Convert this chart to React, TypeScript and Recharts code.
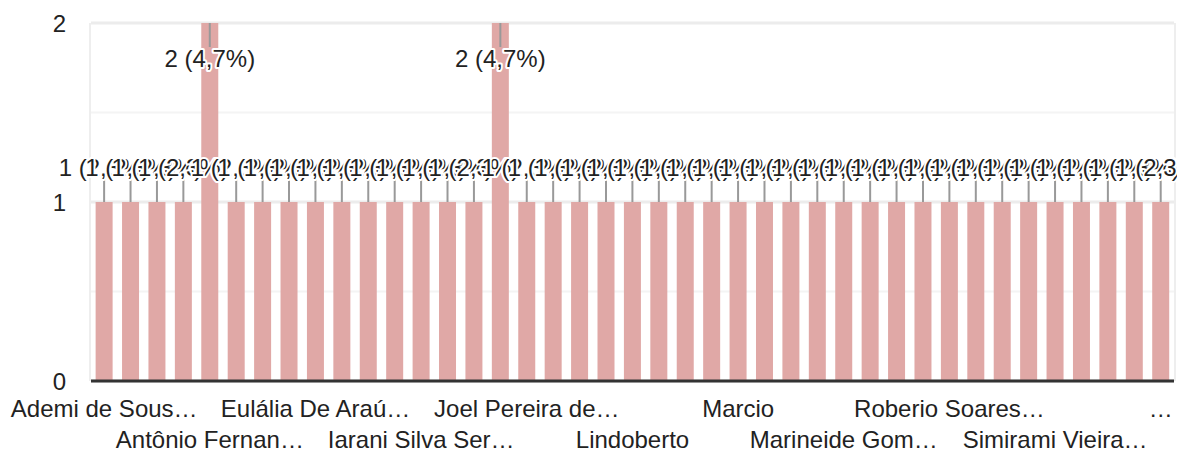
import { BarChart, Bar, XAxis, YAxis, CartesianGrid, ReferenceLine, LabelList } from "recharts";

// Names as they show on the axis (every 4th one is visible), the rest are read as hidden.
const names = [
  "Ademi de Sous…", "Adriana Lopes", "Alcides Rocha", "Ana Paula", "Antônio Fernan…",
  "Benedita Silva", "Carlos Alberto", "Cícero Gomes", "Eulália De Araú…", "Francisco Neto",
  "Gilberto Dias", "Helena Costa", "Iarani Silva Ser…", "Ivone Maria", "Jacira Souza",
  "João Batista", "Joel Pereira de…", "José Carlos", "Josefa Lima", "Leonor Alves",
  "Lindoberto", "Lúcia Helena", "Luiz Antônio", "Manoel Pedro", "Marcio",
  "Maria das Dores", "Maria José", "Marilene Cruz", "Marineide Gom…", "Neusa Ramos",
  "Otávio Reis", "Raimundo Nonato", "Roberio Soares…", "Rosângela Melo", "Sebastião Luz",
  "Severino Paz", "Simirami Vieira…", "Sônia Maria", "Terezinha Rosa", "Valdir Santos",
  "…",
];

const counts = [
  1, 1, 1, 1, 2, 1, 1, 1, 1, 1, 1, 1, 1, 1, 1, 2, 1, 1, 1, 1, 1,
  1, 1, 1, 1, 1, 1, 1, 1, 1, 1, 1, 1, 1, 1, 1, 1, 1, 1, 1, 1,
];

const yTicks = [0, 0.5, 1, 1.5, 2];

const total = counts.reduce((a, b) => a + b, 0);
const data = names.map((name, i) => ({ name, count: counts[i] }));

const FONT = '"Liberation Sans", Arial, sans-serif';
const TEXT = "#222222";
const PLOT_TOP = 23;

function pct(v: number) {
  return `${v} (${((v / total) * 100).toFixed(1).replace(".", ",")}%)`;
}

function Annotation(props: any) {
  const vb = props.viewBox || {};
  const x = props.x ?? vb.x;
  const y = props.y ?? vb.y;
  const w = props.width ?? vb.width;
  const v = Number(props.value);
  const cx = x + w / 2;
  const inside = y - 50 < PLOT_TOP;
  const y2 = inside ? y + 24 : y - 23;
  const ty = inside ? y + 44 : y - 26;
  return (
    <g>
      <line x1={cx} y1={y} x2={cx} y2={y2} stroke="#999999" strokeWidth={2} />
      <text
        x={cx}
        y={ty}
        textAnchor="middle"
        fontFamily={FONT}
        fontSize={24}
        fill={TEXT}
        stroke="#ffffff"
        strokeWidth={4}
        strokeLinejoin="round"
        paintOrder="stroke"
      >
        {pct(v)}
      </text>
    </g>
  );
}

function NameTick(props: any) {
  const { x, y, payload } = props;
  const i = payload.index;
  if (i % 4 !== 0) return <g />;
  const row = (i / 4) % 2;
  return (
    <text
      x={x}
      y={y + (row === 0 ? 36 : 67)}
      textAnchor="middle"
      fontFamily={FONT}
      fontSize={24}
      fill={TEXT}
    >
      {payload.value}
    </text>
  );
}

// major lines at whole numbers, lighter ones at the halves
function GridLine(props: any) {
  const major = props.index % 2 === 0;
  return (
    <line
      key={props.key}
      x1={props.x1}
      x2={props.x2}
      y1={props.y1}
      y2={props.y2}
      stroke={major ? "#ececec" : "#f4f4f4"}
      strokeWidth={major ? 3 : 2}
    />
  );
}

export default function App() {
  return (
    <div style={{ width: 1177, height: 450, background: "#fff" }}>
      <style>{"body{margin:0}"}</style>
      <BarChart
        width={1177}
        height={450}
        data={data}
        margin={{ top: PLOT_TOP, right: 3, left: 0, bottom: 0 }}
        barCategoryGap="17.5%"
      >
        <CartesianGrid horizontal={false} verticalPoints={[90, 1175]} stroke="#eeeeee" strokeWidth={2} />
        <CartesianGrid vertical={false} horizontal={(p: any) => <GridLine {...p} />} />
        <XAxis
          dataKey="name"
          interval={0}
          height={69}
          tickLine={false}
          axisLine={false}
          tickSize={0}
          tickMargin={0}
          tick={<NameTick />}
        />
        <YAxis
          width={91}
          domain={[0, 2]}
          ticks={yTicks}
          tickFormatter={(v: number) => (Number.isInteger(v) ? String(v) : "")}
          axisLine={false}
          tickLine={false}
          tickSize={0}
          tickMargin={25}
          tick={{ fontFamily: FONT, fontSize: 24, fill: TEXT }}
        />
        <Bar dataKey="count" fill="#e0a8a6" isAnimationActive={false}>
          <LabelList dataKey="count" content={<Annotation />} />
        </Bar>
        <ReferenceLine y={0} stroke="#333333" strokeWidth={3} />
      </BarChart>
    </div>
  );
}
